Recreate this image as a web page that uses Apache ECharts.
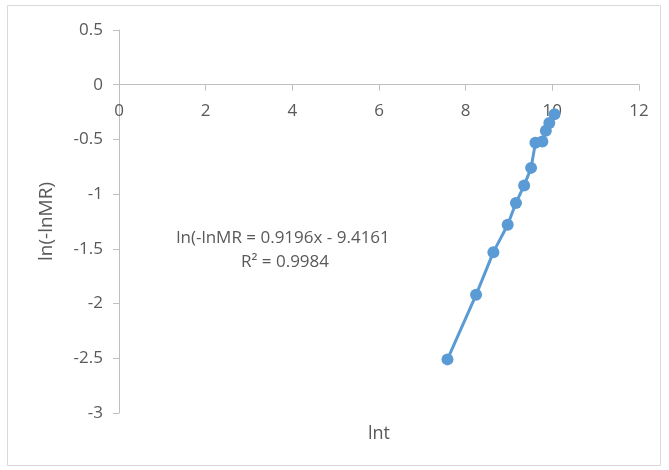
<!DOCTYPE html>
<html><head><meta charset="utf-8">
<script src="https://cdn.jsdelivr.net/npm/echarts@6/dist/echarts.min.js"></script>
<style>html,body{margin:0;padding:0;background:#fff}#c{width:669px;height:470px}</style>
</head><body><div id="c"></div>
<script>
const lnT = [7.58, 8.24, 8.64, 8.97, 9.16, 9.35, 9.51, 9.61, 9.77, 9.85, 9.93, 10.05];
const lnNegLnMR = [-2.51, -1.92, -1.53, -1.28, -1.08, -0.92, -0.76, -0.53, -0.52, -0.42, -0.35, -0.27];
const xTicks = [0, 2, 4, 6, 8, 10, 12];
const yTicks = [0.5, 0, -0.5, -1, -1.5, -2, -2.5, -3];
const equation = 'ln(-lnMR = 0.9196x - 9.4161';
const rSquared = 'R² = 0.9984';

const font = 'Open Sans, Liberation Sans, sans-serif';
const W = 669, H = 470;
const grid = { left: 119, right: 30, top: 30, bottom: 57 };
const yMin = yTicks[yTicks.length - 1], yMax = yTicks[0];
const gridH = H - grid.top - grid.bottom;
const zeroOffset = -gridH * (0 - yMin) / (yMax - yMin);

const chart = echarts.init(document.getElementById('c'));
chart.setOption({
  animation: false,
  grid: Object.assign({ containLabel: false, outerBoundsMode: 'none' }, grid),
  graphic: [
    { type: 'rect', shape: { x: 7.5, y: 5.5, width: 653, height: 460 }, style: { fill: 'none', stroke: '#d9d9d9', lineWidth: 1 } },
    { type: 'text', x: 283, y: 238, style: { text: equation, fill: '#595959', font: '17px ' + font, textAlign: 'center', textVerticalAlign: 'middle' } },
    { type: 'text', x: 285, y: 262, style: { text: rSquared, fill: '#595959', font: '17px ' + font, textAlign: 'center', textVerticalAlign: 'middle' } }
  ],
  xAxis: {
    type: 'value', min: xTicks[0], max: xTicks[xTicks.length - 1], interval: 2,
    position: 'bottom', offset: zeroOffset,
    name: 'lnt', nameLocation: 'middle', nameGap: 340,
    nameTextStyle: { color: '#595959', fontSize: 18, fontFamily: font },
    axisLine: { show: true, onZero: false, lineStyle: { color: '#bfbfbf' } },
    axisTick: { show: true, length: 6, lineStyle: { color: '#bfbfbf' } },
    axisLabel: { color: '#595959', fontSize: 17, fontFamily: font, margin: 18 },
    splitLine: { show: false }
  },
  yAxis: {
    type: 'value', min: yMin, max: yMax, interval: 0.5,
    name: 'ln(-lnMR)', nameLocation: 'middle', nameGap: 63, nameRotate: 90,
    nameTextStyle: { color: '#595959', fontSize: 19, fontFamily: font },
    axisLine: { show: true, onZero: false, lineStyle: { color: '#bfbfbf' } },
    axisTick: { show: true, length: 6, lineStyle: { color: '#bfbfbf' } },
    axisLabel: { color: '#595959', fontSize: 17, fontFamily: font, margin: 16 },
    splitLine: { show: false }
  },
  series: [{
    type: 'line',
    data: lnT.map((x, i) => [x, lnNegLnMR[i]]),
    symbol: 'circle', symbolSize: 12,
    itemStyle: { color: '#5b9bd5' },
    lineStyle: { color: '#5b9bd5', width: 3 }
  }]
});
</script></body></html>
